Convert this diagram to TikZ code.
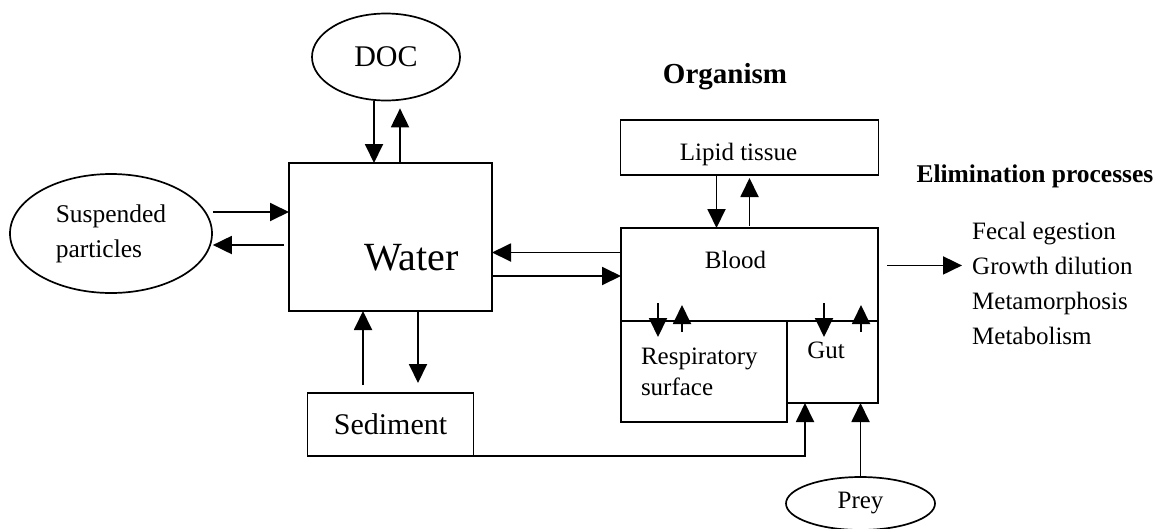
\documentclass[tikz,border=0pt]{standalone}
\usepackage{fontspec}
\setmainfont{Liberation Serif}
\usetikzlibrary{arrows.meta, shapes.geometric, positioning}

\begin{document}
\begin{tikzpicture}[x=1pt, y=-1pt, >={Triangle[length=19pt,width=18pt]},
    every node/.style={font=\fontsize{25}{31}\selectfont},
    box/.style={draw, line width=1.9pt, inner sep=0pt, outer sep=0pt},
    blob/.style={draw, ellipse, line width=1.7pt, inner sep=0pt},
    arr/.style={->, line width=1.9pt}
  ]
  \useasboundingbox (0,0) rectangle (1153,528);

  % outside the organism
  \node[blob, minimum width=148pt, minimum height=87pt,
        font=\fontsize{30}{36}\selectfont] (doc) at (386,57) {DOC};
  \node[blob, minimum width=202pt, minimum height=119pt, align=left,
        font=\fontsize{25.5}{35}\selectfont] (susp) at (111,233.5) {Suspended\\particles};
  \node[box, minimum width=203pt, minimum height=148pt] (water) at (390.5,237) {};
  \node[anchor=base, font=\fontsize{40}{48}\selectfont] (watertxt) at (411.5,270) {Water};
  \node[box, minimum width=166pt, minimum height=63pt, below=82pt of water,
        font=\fontsize{30}{36}\selectfont] (sed) {Sediment};
  \node[blob, minimum width=149pt, minimum height=53pt] (prey) at (860.5,503.5) {Prey};

  % organism
  \node[anchor=base, font=\fontsize{29}{35}\selectfont\bfseries] (org) at (725,83) {Organism};
  \node[box, minimum width=257pt, minimum height=93pt] (blood) at (749.5,274.5) {};
  \node[anchor=base] (bloodtxt) at (735.5,268) {Blood};
  \node[box, minimum width=258pt, minimum height=55pt, above=53pt of blood] (lipid) {};
  \node[anchor=base] (lipidtxt) at (738.5,160) {Lipid tissue};
  \node[box, anchor=north west, minimum height=101pt, text width=126pt,
        inner xsep=20pt, align=left] (resp) at (blood.south west) {Respiratory\\surface};
  \node[box, anchor=north west, minimum width=91pt, minimum height=82pt] (gut) at (resp.north east) {};
  \node[anchor=base] (guttxt) at (826,358) {Gut};

  % elimination
  \node[anchor=base west, font=\fontsize{25.5}{31}\selectfont\bfseries] (elimhead) at (913,182) {Elimination processes};
  \foreach \t [count=\i] in {Fecal egestion, Growth dilution, Metamorphosis, Metabolism}
    \node[anchor=base west, inner xsep=0pt] (elim\i) at (972,204+35*\i) {\t};

  % exchanges with water
  \draw[arr] ([xshift=-12pt]doc.south) -- ([xshift=-12pt]doc.south |- water.north);
  \draw[arr, shorten >=7pt] ([xshift=14pt]doc.south |- water.north) -- ([xshift=14pt]doc.south);
  \draw[arr] ([yshift=25pt]water.west -| susp.east) -- ([yshift=25pt]water.west);
  \draw[arr, shorten <=5pt] ([yshift=-8pt]water.west) -- ([yshift=-8pt]water.west -| susp.east);
  \draw[arr, shorten <=8pt] ([xshift=-27.5pt]water.south |- sed.north) -- ([xshift=-27.5pt]water.south);
  \draw[arr, shorten >=10pt] ([xshift=27.5pt]water.south) -- ([xshift=27.5pt]water.south |- sed.north);
  \draw[arr] ([yshift=-1.5pt]water.east |- blood.west) -- ([yshift=-1.5pt]blood.west);
  \draw[arr] ([yshift=22pt]blood.west) -- ([yshift=22pt]blood.west -| water.east);

  % inside the organism
  \draw[arr] ([xshift=-33pt]lipid.south) -- ([xshift=-33pt]lipid.south |- blood.north);
  \draw[arr, shorten <=2pt, shorten >=3pt] (lipid.south |- blood.north) -- (lipid.south);
  \draw[arr] ([shift={(-46,-18)}]resp.north) -- ([shift={(-46,16)}]resp.north);
  \draw[arr] ([shift={(-22,11)}]resp.north) -- ([shift={(-22,-16)}]resp.north);
  \draw[arr] ([shift={(-8.5,-18)}]gut.north) -- ([shift={(-8.5,16)}]gut.north);
  \draw[arr] ([shift={(28.5,11)}]gut.north) -- ([shift={(28.5,-16)}]gut.north);

  % food and elimination
  \draw[arr] (sed.south east) -| ([xshift=-27.5pt]gut.south);
  \draw[arr] (prey.north) -- (prey.north |- gut.south);
  \draw[arr] ([xshift=9pt]blood.east |- elim2.west) -- ([xshift=-10pt]elim2.west);

\end{tikzpicture}
\end{document}
